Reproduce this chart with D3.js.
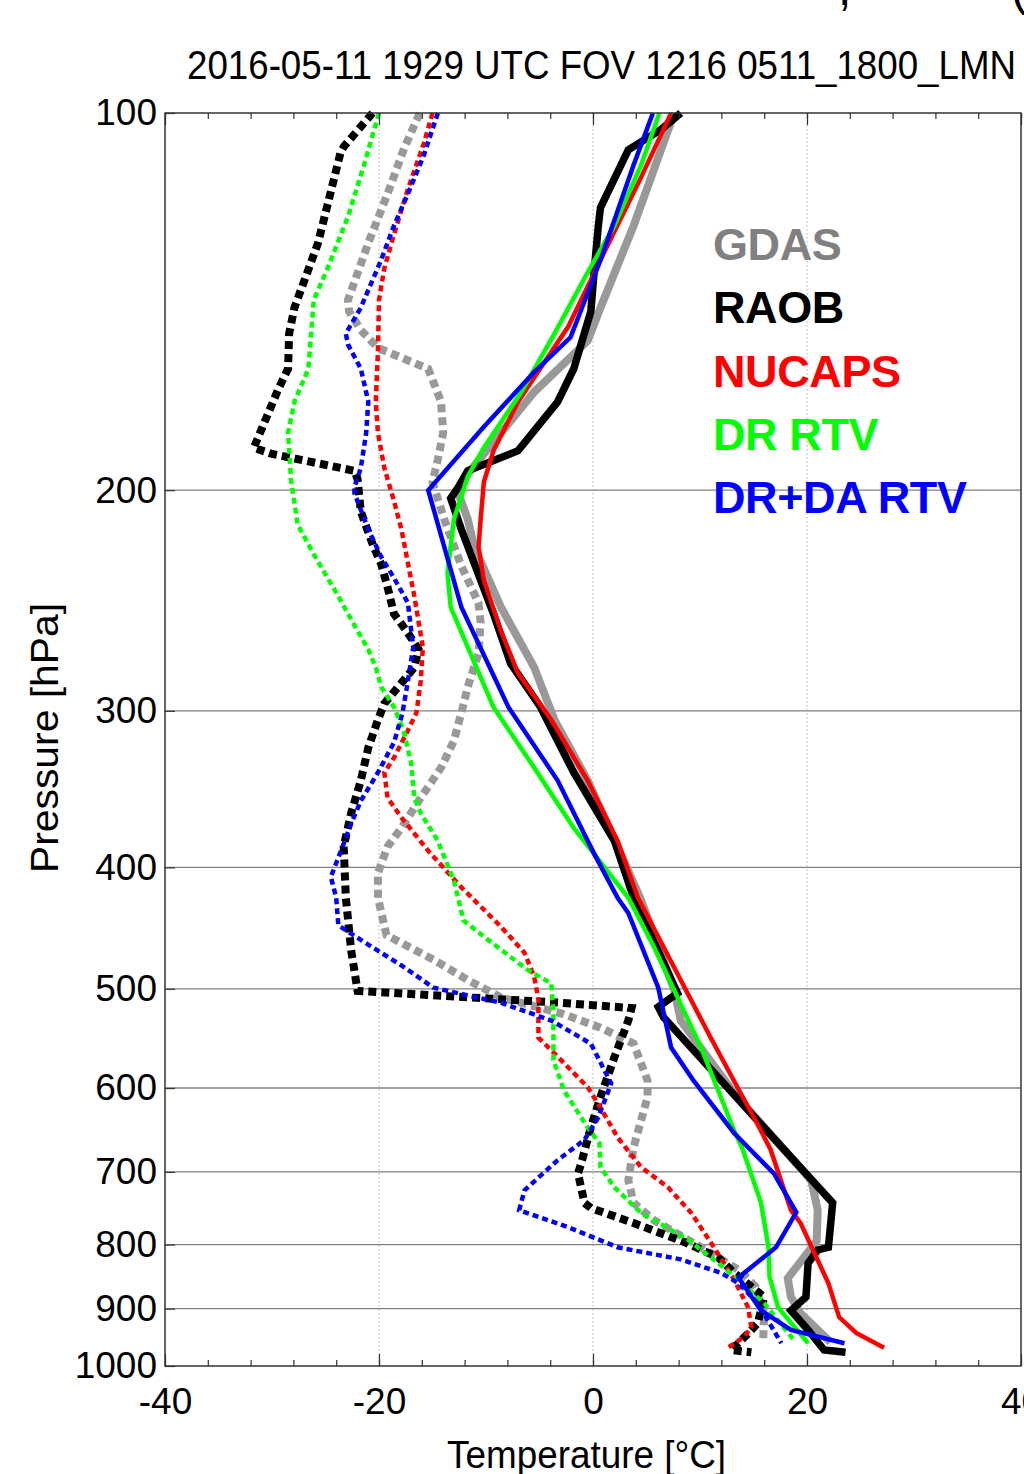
<!DOCTYPE html>
<html>
<head>
<meta charset="utf-8">
<script src="https://cdn.jsdelivr.net/npm/d3@7"></script>
<style>
	html, body { margin: 0; padding: 0; background: #fff; }
	svg { display: block; }
	text { font-family: "Liberation Sans", Arial, sans-serif; }
</style>
</head>
<body>
<div id="chart"></div>
<script>
(function () {

	'use strict';

	// [pressure hPa, temperature degC]
	var gdasT = [[100, 7.6], [123, 3.8], [143, 0.7], [152, -0.5], [167, -5.5], [194, -11.7], [201, -12.6], [211, -11.7],
		[222, -11.1], [248, -8.6], [277, -5.5], [305, -3.6], [341, -0.5], [380, 2.0], [425, 4.5], [501, 7.6], [530, 8.2],
		[606, 13.2], [711, 20.4], [751, 21.0], [795, 20.9], [851, 18.2], [881, 18.5], [908, 19.4], [957, 22.2]];
	var gdasTd = [[100, -16.2], [107, -17.7], [116, -19.2], [127, -21.0], [141, -22.9], [144, -22.8], [149, -21.7], [154, -20.1],
		[160, -15.4], [170, -14.2], [180, -14.0], [189, -14.5], [197, -15.0], [211, -13.9], [230, -12.3], [246, -10.7],
		[255, -10.5], [270, -10.7], [287, -11.7], [301, -12.3], [317, -13.0], [333, -14.2], [352, -16.1], [372, -17.9],
		[385, -19.2], [404, -20.1], [423, -20.1], [453, -19.3], [474, -14.9], [492, -11.7], [508, -8.6], [523, -3.0],
		[537, 0.7], [553, 3.8], [592, 5.1], [610, 5.1], [669, 3.8], [711, 3.3], [741, 3.8], [765, 5.7], [804, 10.1],
		[840, 13.8], [865, 15.2], [908, 16.0], [957, 15.9]];

	var raobT = [[100, 8.2], [103, 6.4], [107, 3.3], [119, 0.7], [123, 0.5], [134, 0.1], [144, -0.2], [160, -1.8], [170, -3.3],
		[186, -7.0], [193, -11.7], [199, -12.6], [203, -13.3], [215, -12.3], [236, -10.5], [251, -9.3], [275, -7.7],
		[298, -4.9], [336, -1.8], [381, 2.0], [423, 3.8], [504, 7.9], [517, 6.1], [527, 6.6], [629, 14.8], [741, 22.4],
		[804, 22.0], [808, 21.0], [828, 20.1], [881, 19.9], [903, 18.5], [936, 20.1], [971, 21.6], [975, 23.6]];
	var raobTd = [[100, -20.6], [106.4, -23.3], [107.6, -23.6], [127, -25.7], [143, -27.9], [150, -28.4], [160, -28.5],
		[166, -29.4], [185, -31.7], [187, -30.1], [193, -22.3], [196, -22.0], [208, -21.7], [222, -20.5], [229, -19.8],
		[239, -19.2], [251, -18.6], [260, -17.3], [268, -16.3], [277, -16.7], [285, -17.9], [296, -19.5], [305, -20.1],
		[321, -21.0], [341, -21.7], [362, -22.6], [385, -23.3], [423, -23.1], [466, -22.6], [502, -22.0], [507, -13.3],
		[513, -3.0], [518, 3.6], [530, 3.3], [567, 2.0], [610, 0.7], [645, -0.2], [689, -1.1], [702, -1.4], [741, -0.8],
		[748, -0.2], [769, 3.8], [796, 8.5], [819, 11.7], [843, 13.2], [881, 16.0], [924, 15.4], [942, 14.5], [966, 13.2],
		[971, 12.9], [975, 14.8]];

	var nucapsT = [[100, 7.3], [112.5, 4.5], [131, 0.7], [148, -2.3], [170, -7.0], [186, -9.3], [197, -10.2], [211, -10.5],
		[222, -10.7], [236, -10.2], [259, -8.6], [280, -7.0], [305, -3.9], [341, -0.5], [381, 2.3], [423, 4.2], [547, 11.0],
		[649, 15.7], [672, 16.6], [751, 18.5], [769, 19.4], [859, 22.0], [914, 23.0], [941, 24.6], [967, 27.2]];
	var nucapsTd = [[100, -15.0], [105.7, -15.8], [115, -17.3], [125, -18.6], [133, -19.5], [141, -20.0], [155, -20.1],
		[170, -20.3], [180, -20.1], [192, -19.5], [204, -18.6], [215, -17.9], [243, -16.7], [267, -15.9], [284, -16.1],
		[301, -16.5], [311, -17.3], [327, -18.6], [336, -19.5], [352, -19.2], [365, -17.9], [388, -15.4], [415, -12.3],
		[446, -8.6], [468, -6.4], [489, -5.5], [510, -5.1], [547, -5.1], [563, -3.6], [599, -0.5], [622, 0.7], [657, 2.3],
		[694, 4.5], [720, 7.0], [755, 9.2], [804, 11.3], [854, 13.2], [898, 14.5], [931, 14.8], [948, 14.1], [967, 12.6]];

	var drT = [[100, 6.2], [110, 4.5], [123, 2.0], [134, -0.5], [150, -3.6], [167, -6.7], [185, -10.2], [195, -11.7],
		[211, -13.0], [233, -13.6], [248, -13.3], [267, -11.7], [298, -9.3], [333, -5.5], [372, -1.8], [423, 3.3],
		[463, 5.7], [557, 10.1], [649, 13.2], [672, 14.0], [741, 15.7], [804, 16.4], [849, 16.5], [898, 17.3], [959, 20.1]];
	var drTd = [[100, -20.0], [110, -21.4], [121, -22.9], [133, -24.8], [141, -26.1], [160, -26.6], [170, -27.9], [180, -28.5],
		[197, -28.2], [213, -27.6], [225, -26.1], [243, -23.8], [251, -22.9], [268, -21.0], [277, -20.3], [287, -19.8],
		[298, -18.6], [311, -17.7], [330, -17.0], [352, -16.7], [362, -16.1], [381, -14.5], [410, -13.0], [441, -12.1],
		[457, -9.8], [483, -6.1], [495, -3.9], [523, -3.7], [570, -3.7], [603, -2.7], [645, -0.5], [664, 0.6], [694, 0.7],
		[720, 2.0], [755, 4.5], [793, 8.9], [834, 12.2], [891, 16.0], [954, 18.8]];

	var dradT = [[100, 5.6], [110, 3.8], [131, 0.7], [151, -2.1], [161, -5.5], [178, -10.2], [200, -15.4], [222, -13.9],
		[248, -12.3], [298, -7.9], [341, -3.3], [390, 0.1], [423, 2.3], [435, 3.3], [499, 6.1], [557, 7.3], [592, 9.4],
		[652, 13.2], [702, 16.9], [754, 19.0], [804, 17.1], [850, 13.6], [903, 15.7], [936, 18.5], [959, 23.5]];
	var dradTd = [[100, -14.5], [108, -15.8], [116, -17.3], [123, -18.6], [131, -19.8], [143, -21.7], [150, -23.1],
		[153, -22.9], [160, -21.7], [170, -21.0], [180, -21.2], [192, -21.7], [199, -22.3], [201, -22.3], [215, -21.0],
		[226, -19.8], [235, -18.6], [246, -17.3], [267, -16.8], [284, -17.3], [301, -17.8], [318, -18.6], [336, -20.1],
		[354, -21.7], [369, -22.6], [385, -23.4], [407, -24.5], [423, -24.0], [445, -23.8], [457, -21.7], [479, -17.9],
		[499, -14.9], [513, -8.6], [530, -3.9], [553, -0.2], [595, 1.7], [633, 0.5], [660, -0.8], [685, -3.3], [724, -6.4],
		[751, -6.9], [775, -2.3], [804, 2.3], [822, 8.2], [843, 12.0], [859, 13.6], [891, 15.4], [959, 17.6]];

	var pressureTicks = [100, 200, 300, 400, 500, 600, 700, 800, 900, 1000];
	var gridPressures = [200, 300, 400, 500, 600, 700, 800, 900];
	var tempMajorTicks = [-40, -20, 0, 20, 40];
	var tempMinorTicks = d3.range(-40, 41, 4);
	var tempGrid = [-20, 0, 20];

	var legendLabels = ['GDAS', 'RAOB', 'NUCAPS', 'DR RTV', 'DR+DA RTV'];
	var legendColors = ['#808080', '#000000', '#ff0000', '#00ff00', '#0000ff'];

	var title = '2016-05-11 1929 UTC FOV 1216 0511_1800_LMN';

	var width = 1024;
	var height = 1474;
	var left = 165, right = 1021, top = 113, bottom = 1366;

	var svg = d3.select('#chart')
		.append('svg')
		.attr('width', width)
		.attr('height', height);

	var x = d3.scaleLinear().domain([-40, 40]).range([left, right]);
	var y = d3.scaleLog().domain([100, 1000]).range([top, bottom]);

	// grid
	svg.append('g')
		.selectAll('line')
		.data(gridPressures)
		.enter().append('line')
		.attr('x1', left).attr('x2', right)
		.attr('y1', function (d) { return y(d); })
		.attr('y2', function (d) { return y(d); })
		.attr('stroke', '#808080')
		.attr('stroke-width', 1.3);

	svg.append('g')
		.selectAll('line')
		.data(tempGrid)
		.enter().append('line')
		.attr('x1', function (d) { return x(d); })
		.attr('x2', function (d) { return x(d); })
		.attr('y1', top).attr('y2', bottom)
		.attr('stroke', '#b0b0b0')
		.attr('stroke-width', 1)
		.style('stroke-dasharray', ('1.5, 2.5'));

	// text cut off above the title
	svg.append('text').attr('x', 838).attr('y', 5).attr('font-size', 48).text(',');
	svg.append('text').attr('x', 1011).attr('y', 5).attr('font-size', 48).text('(');

	svg.append('text')
		.attr('x', 187)
		.attr('y', 79)
		.attr('font-size', 41)
		.attr('textLength', 829)
		.attr('lengthAdjust', 'spacingAndGlyphs')
		.text(title);

	// profiles
	var line = d3.line()
		.x(function (d) { return x(d[1]); })
		.y(function (d) { return y(d[0]); });

	var profiles = [
		{ data: gdasTd, color: '#999999', width: 8, dash: '8, 5' },
		{ data: gdasT, color: '#999999', width: 8, dash: null },
		{ data: raobTd, color: '#000000', width: 8, dash: '8, 5' },
		{ data: raobT, color: '#000000', width: 7.5, dash: null },
		{ data: nucapsTd, color: '#ff0000', width: 4.5, dash: '6, 4' },
		{ data: nucapsT, color: '#ff0000', width: 4.5, dash: null },
		{ data: drTd, color: '#00ff00', width: 4.5, dash: '6, 4' },
		{ data: drT, color: '#00ff00', width: 4.5, dash: null },
		{ data: dradTd, color: '#0000ff', width: 4.5, dash: '6, 4' },
		{ data: dradT, color: '#0000ff', width: 4.5, dash: null }
	];

	svg.append('g')
		.selectAll('path')
		.data(profiles)
		.enter().append('path')
		.attr('d', function (d) { return line(d.data); })
		.attr('fill', 'none')
		.attr('stroke', function (d) { return d.color; })
		.attr('stroke-width', function (d) { return d.width; })
		.attr('stroke-linejoin', 'miter')
		.style('stroke-dasharray', function (d) { return d.dash; });

	// axes
	function styleAxis(g) {
		g.select('.domain').remove();
		g.selectAll('.tick line').attr('stroke', '#333').attr('stroke-width', 1.2);
		g.selectAll('.tick text').attr('font-size', 37).attr('fill', '#000')
			.attr('font-family', '"Liberation Sans", Arial, sans-serif');
	}

	function plain(d) { return String(d); }

	svg.append('g')
		.attr('transform', 'translate(0,' + bottom + ')')
		.call(d3.axisBottom(x).tickValues(tempMinorTicks).tickSize(-6).tickFormat(''))
		.call(styleAxis);
	svg.append('g')
		.attr('transform', 'translate(0,' + bottom + ')')
		.call(d3.axisBottom(x).tickValues(tempMajorTicks).tickSize(-12).tickPadding(22).tickFormat(plain))
		.call(styleAxis);

	svg.append('g')
		.attr('transform', 'translate(0,' + top + ')')
		.call(d3.axisTop(x).tickValues(tempMinorTicks).tickSize(-6).tickFormat(''))
		.call(styleAxis);
	svg.append('g')
		.attr('transform', 'translate(0,' + top + ')')
		.call(d3.axisTop(x).tickValues(tempMajorTicks).tickSize(-12).tickFormat(''))
		.call(styleAxis);

	svg.append('g')
		.attr('transform', 'translate(' + left + ',0)')
		.call(d3.axisLeft(y).tickValues(pressureTicks).tickSize(-10).tickPadding(8).tickFormat(plain))
		.call(styleAxis);

	svg.append('rect')
		.attr('x', left).attr('y', top)
		.attr('width', right - left).attr('height', bottom - top)
		.attr('fill', 'none')
		.attr('stroke', '#333')
		.attr('stroke-width', 1.5);

	svg.append('text')
		.attr('x', 447)
		.attr('y', 1468)
		.attr('font-size', 38)
		.attr('textLength', 279)
		.attr('lengthAdjust', 'spacingAndGlyphs')
		.text('Temperature [°C]');

	svg.append('text')
		.attr('transform', 'translate(58,873) rotate(-90)')
		.attr('font-size', 38)
		.attr('textLength', 270)
		.attr('lengthAdjust', 'spacingAndGlyphs')
		.text('Pressure [hPa]');

	// legend
	svg.append('g')
		.selectAll('text')
		.data(legendLabels)
		.enter().append('text')
		.attr('x', 713)
		.attr('y', function (d, i) { return 260 + i * 63.3; })
		.attr('font-family', 'Lato, "Open Sans", sans-serif')
		.attr('font-weight', 'bold')
		.attr('font-size', 45)
		.attr('letter-spacing', -0.4)
		.attr('fill', function (d, i) { return legendColors[i]; })
		.text(function (d) { return d; });

})();
</script>
</body>
</html>
